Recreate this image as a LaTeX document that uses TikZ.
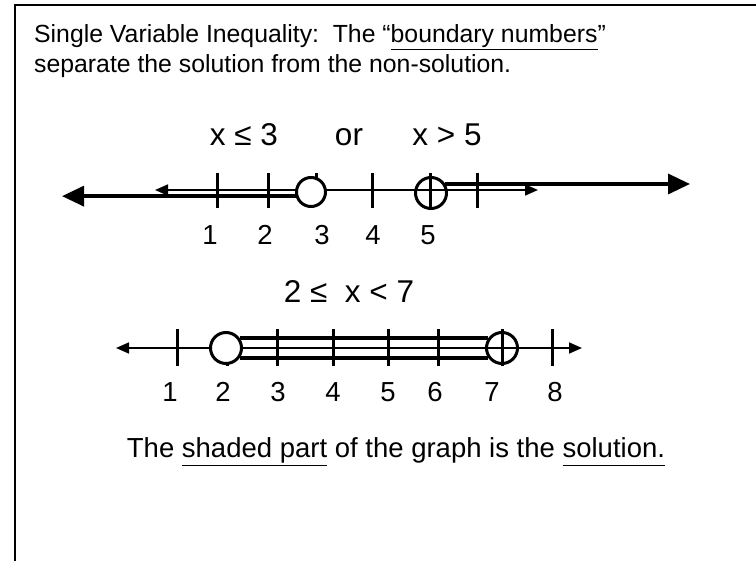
\documentclass[tikz,border=0pt]{standalone}
\usepackage{fontspec}
\setmainfont{Liberation Sans}
\usetikzlibrary{arrows.meta,positioning}
\newcommand{\ul}[1]{\underline{\vphantom{gpy}#1}}

\begin{document}
\begin{tikzpicture}[x=1pt,y=-1pt,
        title/.style={anchor=base west,inner sep=0pt,font=\fontsize{24.8}{29}\selectfont},
        ineq/.style={anchor=base,inner sep=0pt,font=\fontsize{31.5}{34}\selectfont},
        numlabel/.style={anchor=base,inner sep=0pt,font=\fontsize{27.5}{30}\selectfont},
        axis/.style={line width=1.7pt,{Triangle[length=13pt,width=11pt]}-{Triangle[length=13pt,width=11pt]}},
        ray/.style={line width=3.4pt,-{Triangle[length=22pt,width=20pt]}},
        shade/.style={line width=4pt},
        tickmark/.style={line width=3pt},
        openpt/.style={circle,draw,line width=3pt,fill=white,minimum size=29pt,inner sep=0pt},
        crosspt/.style={circle,draw,line width=3pt,minimum size=31pt,inner sep=0pt}
    ]
      \useasboundingbox (0,0) rectangle (756,561);
      \draw[line width=2.5pt] (15,561) -- (15,5) -- (760,5);

      \node[title] (head1) at (34,43) {Single Variable Inequality:\ \ The “\ul{boundary numbers}”};
      \node[title] (head2) at (34,73) {separate the solution from the non-solution.};

      \node[ineq] (orleft) at (244,146) {x ≤ 3};
      \node[ineq] (orword) at (349,146) {or};
      \node[ineq] (orright) at (447,146) {x > 5};

      \coordinate (lend) at (62,190);
      \coordinate (rend) at (690,190);
      \draw[axis] (155,190) -- (538,190);
      \draw[tickmark] (217,173) -- (217,208);
      \draw[tickmark] (268,173) -- (268,208);
      \draw[tickmark] (316,173) -- (316,195);
      \draw[tickmark] (372,173) -- (372,208);
      \draw[tickmark] (477,173) -- (477,208);
      \node[openpt] (c3) at (311,192) {};
      \node[crosspt] (c5) at (431,193) {};
      \draw[tickmark] (430,173) -- (430,208);
      \draw[ray] (c3.195) -- (c3.195 -| lend);
      \draw[ray] (c5.32) -- (c5.32 -| rend);

      \node[numlabel] (a1) at (210,245) {1};
      \node[numlabel] (a2) at (265,245) {2};
      \node[numlabel] (a3) at (322,245) {3};
      \node[numlabel] (a4) at (373,245) {4};
      \node[numlabel] (a5) at (428,245) {5};

      \node[ineq] (between) at (349,303) {2 ≤\ \ x < 7};

      \draw[axis] (116,348) -- (582,348);
      \draw[tickmark] (227,348) -- (227,366);
      \node[openpt,minimum size=31pt] (c2) at (226,348) {};
      \node[crosspt] (c7) at (502,348) {};
      \draw[shade] (c2.36) -- (c7.144);
      \draw[shade] (c2.-36) -- (c7.-144);
      \draw[tickmark] (177,329) -- (177,366);
      \draw[tickmark] (277,329) -- (277,366);
      \draw[tickmark] (333,329) -- (333,366);
      \draw[tickmark] (388,329) -- (388,366);
      \draw[tickmark] (438,329) -- (438,366);
      \draw[tickmark] (502,329) -- (502,366);
      \draw[tickmark] (552,329) -- (552,366);

      \node[numlabel] (b1) at (170,402) {1};
      \node[numlabel] (b2) at (223,402) {2};
      \node[numlabel] (b3) at (278,402) {3};
      \node[numlabel] (b4) at (333,402) {4};
      \node[numlabel] (b5) at (388,402) {5};
      \node[numlabel] (b6) at (435,402) {6};
      \node[numlabel] (b7) at (492,402) {7};
      \node[numlabel] (b8) at (555,402) {8};

      \node[ineq,font=\fontsize{27.5}{31}\selectfont] (footer) at (396,458) {The \ul{shaded part} of the graph is the \ul{solution.}};
    \end{tikzpicture}
\end{document}
